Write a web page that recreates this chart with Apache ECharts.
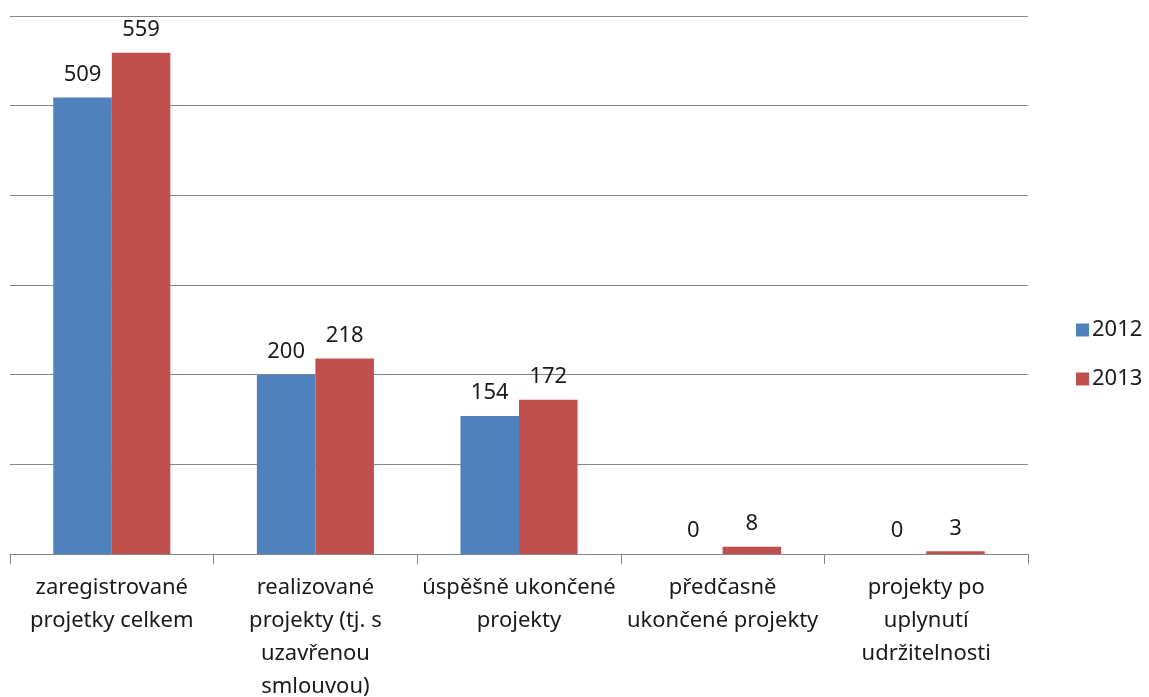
<!DOCTYPE html>
<html>
<head>
<meta charset="utf-8">
<script src="https://cdn.jsdelivr.net/npm/echarts@6/dist/echarts.min.js"></script>
<style>html,body{margin:0;padding:0;background:#fff;}#c{width:1149px;height:697px;}</style>
</head>
<body>
<div id="c"></div>
<script>
const categories = [
  "zaregistrované\nprojetky celkem",
  "realizované\nprojekty (tj. s\nuzavřenou\nsmlouvou)",
  "úspěšně ukončené\nprojekty",
  "předčasně\nukončené projekty",
  "projekty po\nuplynutí\nudržitelnosti"
];
const seriesNames = ["2012", "2013"];
const values2012 = [509, 200, 154, 0, 0];
const values2013 = [559, 218, 172, 8, 3];
const colors = ["#4F81BD", "#C0504D"];
const FONT = "Noto Sans";

const chart = echarts.init(document.getElementById('c'), null, {renderer: 'canvas'});
const labelStyle = {show: true, position: 'top', distance: 12, fontSize: 22, color: '#1a1a1a', fontFamily: FONT};
chart.setOption({
  animation: false,
  backgroundColor: '#fff',
  textStyle: {fontFamily: FONT},
  grid: {left: 10, right: 121, top: 16, bottom: 143, containLabel: false, outerBoundsMode: 'none'},
  legend: {
    orient: 'vertical', left: 1071, top: 314,
    itemWidth: 13, itemHeight: 13, itemGap: 27,
    icon: 'rect',
    textStyle: {fontSize: 22, color: '#1a1a1a', fontFamily: FONT, padding: [0,0,0,-2]},
    data: seriesNames
  },
  xAxis: {
    type: 'category', data: categories,
    axisLine: {lineStyle: {color: '#868686', width: 1}},
    axisTick: {show: true, length: 10, lineStyle: {color: '#868686'}},
    axisLabel: {fontSize: 22, lineHeight: 33, color: '#1a1a1a', margin: 17, interval: 0, fontFamily: FONT}
  },
  yAxis: {
    type: 'value', min: 0, max: 600, interval: 100,
    axisLabel: {show: false}, axisLine: {show: false}, axisTick: {show: false},
    splitLine: {lineStyle: {color: '#868686', width: 1}}
  },
  series: [
    {name: seriesNames[0], type: 'bar', data: values2012, itemStyle: {color: colors[0]}, barGap: '0%', barCategoryGap: '42.5%', label: labelStyle},
    {name: seriesNames[1], type: 'bar', data: values2013, itemStyle: {color: colors[1]}, barGap: '0%', barCategoryGap: '42.5%', label: labelStyle}
  ]
});
</script>
</body>
</html>
